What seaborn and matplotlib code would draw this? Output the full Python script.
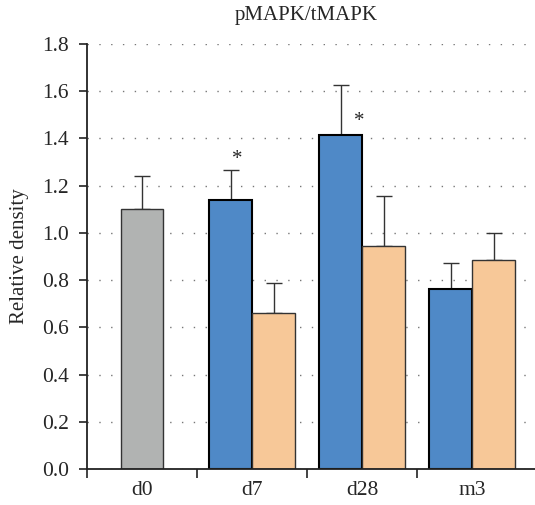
import numpy as np
import pandas as pd
import matplotlib
matplotlib.use('Agg')
import matplotlib.pyplot as plt
import seaborn as sns

# Data
times = ['d0', 'd7', 'd28', 'm3']
control_value = 1.10
control_err = 0.14
group_a = [1.14, 1.415, 0.762]
group_a_err = [0.125, 0.21, 0.11]
group_b = [0.662, 0.945, 0.885]
group_b_err = [0.125, 0.21, 0.113]

sns.set_style('white')
plt.rcParams['font.family'] = ['Liberation Serif', 'DejaVu Serif']
plt.rcParams['font.size'] = 15

fig = plt.figure(figsize=(5.35, 5.05), dpi=100)
ax = fig.add_axes([0.1626, 0.0713, 0.8374, 0.8416])

df = pd.DataFrame({
    'time': times[1:] * 2,
    'value': group_a + group_b,
    'group': ['A'] * 3 + ['B'] * 3,
})

# control bar (single, centred)
sns.barplot(x=['d0'], y=[control_value], order=times, width=0.39,
            color='#b1b3b2', edgecolor='#333333', linewidth=1.0,
            saturation=1, ax=ax)
sns.barplot(data=df, x='time', y='value', hue='group', order=times,
            hue_order=['A', 'B'], palette={'A': '#4f89c7', 'B': '#f7c898'},
            width=0.78, saturation=1, edgecolor='#1a1a1a', linewidth=1.0,
            legend=False, ax=ax)

bars = [p for p in ax.patches if p.get_height() > 0]
errs = [control_err] + group_a_err + group_b_err
for p in bars:
    p.set_zorder(2)
# thicker black outline on blue bars
for p in bars[1:4]:
    p.set_linewidth(1.5)
    p.set_edgecolor('black')
for p in bars[4:]:
    p.set_edgecolor('#333333')

xs = [p.get_x() + p.get_width() / 2 for p in bars]
hs = [p.get_height() for p in bars]
ax.errorbar(xs, hs, yerr=[np.zeros(len(errs)), errs], fmt='none',
            ecolor='#333333', elinewidth=1.0, capsize=5.5, capthick=1.0,
            zorder=1)

# significance markers
ax.text(xs[1] + 0.06, 1.31, '*', ha='center', va='center', fontsize=15)
ax.text(xs[2] + 0.17, 1.47, '*', ha='center', va='center', fontsize=15)

ax.set_ylim(0, 1.8)
ax.set_xlim(-0.5, 3.57)
ax.set_yticks(np.arange(0, 1.81, 0.2))
ax.set_yticklabels([f'{v:.1f}' for v in np.arange(0, 1.81, 0.2)])
ax.set_xticks(range(len(times)))
ax.set_xticklabels(times)
ax.set_xticks([-0.5, 0.5, 1.5, 2.5], minor=True)

ax.yaxis.grid(True, linestyle=(0, (1, 7.5)), color='#777777', linewidth=1.0)
ax.set_axisbelow(True)

for s in ['top', 'right']:
    ax.spines[s].set_visible(False)
for s in ['left', 'bottom']:
    ax.spines[s].set_color('#222222')
    ax.spines[s].set_linewidth(1.3)

ax.tick_params(axis='y', direction='out', length=6, width=1.2,
               color='#222222', left=True, labelsize=15.5, pad=7)
ax.tick_params(axis='x', which='major', length=0, labelsize=15.5, pad=9)
ax.tick_params(axis='x', which='minor', direction='out', length=6.5,
               width=1.2, color='#222222', bottom=True)

ax.set_xlabel('')
ax.set_ylabel('Relative density', fontsize=15, labelpad=9)
ax.set_title('pMAPK/tMAPK', fontsize=15, pad=17, x=0.49)

fig.savefig('out.png', dpi=100)
